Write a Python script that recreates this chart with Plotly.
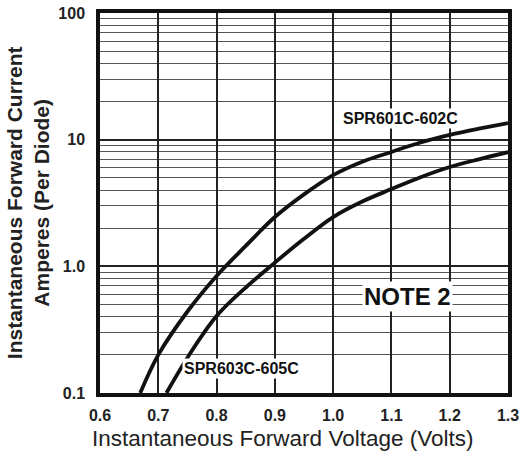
import math
import plotly.graph_objects as go

# Data
v_601 = [0.669, 0.70, 0.75, 0.80, 0.85, 0.90, 0.95, 1.00, 1.05, 1.10, 1.15, 1.20, 1.25, 1.30]
i_601 = [0.10, 0.20, 0.44, 0.84, 1.45, 2.45, 3.7, 5.25, 6.7, 8.0, 9.5, 10.9, 12.2, 13.5]
v_603 = [0.714, 0.75, 0.80, 0.85, 0.90, 0.95, 1.00, 1.05, 1.10, 1.15, 1.20, 1.25, 1.30]
i_603 = [0.10, 0.19, 0.405, 0.68, 1.07, 1.65, 2.45, 3.25, 4.07, 5.05, 6.08, 7.0, 7.96]
x_ticks = [0.6, 0.7, 0.8, 0.9, 1.0, 1.1, 1.2, 1.3]
x_ticklabels = ["0.6", "0.7", "0.8", "0.9", "1.0", "1.1", "1.2", "1.3"]
y_ticks = [0.1, 1, 10, 100]
y_ticklabels = ["0.1", "1.0", "10", "100"]
y_minor = [m * d for d in [0.1, 1, 10] for m in range(2, 10)]
labels = ["SPR601C-602C", "SPR603C-605C", "NOTE 2"]
label_pos = [(1.115, 14.8), (0.843, 0.157), (1.127, 0.583)]

FONT = "Arial, Liberation Sans, sans-serif"

fig = go.Figure()
fig.add_trace(go.Scatter(x=v_601, y=i_601, mode="lines", line=dict(color="#111", width=3.8, shape="spline"), showlegend=False))
fig.add_trace(go.Scatter(x=v_603, y=i_603, mode="lines", line=dict(color="#111", width=3.8, shape="spline"), showlegend=False))

sizes = [16, 16, 24]
for (txt, (x, y), s) in zip(labels, label_pos, sizes):
    fig.add_annotation(x=x, y=math.log10(y), yref="y", xref="x", text="<b>%s</b>" % txt, showarrow=False,
                       font=dict(family=FONT, size=s, color="#111"), bgcolor="white", borderpad=1)

fig.add_annotation(x=-0.176, y=0.5, xref="paper", yref="paper", xanchor="center", yanchor="middle",
                   textangle=-90, showarrow=False,
                   text="<b>Instantaneous Forward Current<br>Amperes (Per Diode)</b>",
                   font=dict(family=FONT, size=21, color="#222"))
fig.add_annotation(x=(282 - 100) / 408, y=-(438 - 393) / 380, xref="paper", yref="paper",
                   xanchor="center", yanchor="middle", showarrow=False,
                   text="Instantaneous Forward Voltage (Volts)",
                   font=dict(family=FONT, size=22.5, color="#222"))

fig.update_xaxes(range=[0.6, 1.3], tickvals=x_ticks, ticktext=["<b>%s</b>" % t for t in x_ticklabels],
                 showgrid=True, gridcolor="#222", gridwidth=1.5, zeroline=False, automargin=False,
                 ticks="outside", ticklen=5, tickcolor="white", tickfont=dict(family=FONT, size=16, color="#222"),
                 showline=True, linecolor="#111", linewidth=3.5, mirror=True)
fig.update_yaxes(type="log", range=[-1, 2], tickvals=y_ticks, ticktext=["<b>%s</b>" % t for t in y_ticklabels],
                 showgrid=True, gridcolor="#222", gridwidth=1.5, zeroline=False, automargin=False,
                 ticks="outside", ticklen=8, tickcolor="white", tickfont=dict(family=FONT, size=16, color="#222"),
                 minor=dict(tickvals=y_minor, showgrid=True, gridcolor="#555", gridwidth=1, ticks=""),
                 showline=True, linecolor="#111", linewidth=3.5, mirror=True)

fig.update_layout(width=520, height=452, margin=dict(l=100, r=12, t=13, b=59),
                  plot_bgcolor="white", paper_bgcolor="white")
fig.write_html("out.html", config={"displayModeBar": False},
               post_script="document.body.style.margin='0px';")
